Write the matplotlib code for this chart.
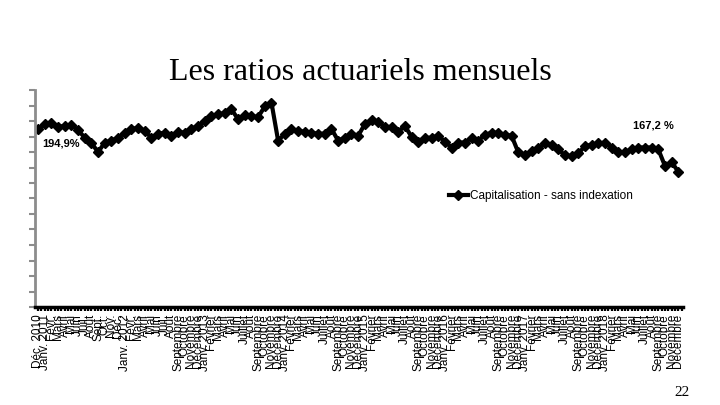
import numpy as np
import matplotlib
matplotlib.use("Agg")
from matplotlib import pyplot as plt
from matplotlib.ticker import MultipleLocator

# Ratio actuariel mensuel (%), Déc. 2010 -> Déc. 2018
ratios = [
    194.9, 198.0, 198.7, 196.2, 196.8, 197.4, 194.3, 189.2, 186.1, 179.8,
    186.1, 187.3, 189.2, 192.4, 194.9, 195.5, 193.6, 189.2, 191.8, 192.4,
    190.5, 193.0, 192.4, 194.9, 196.8, 199.9, 203.1, 204.4, 205.0, 207.5,
    201.2, 203.7, 203.1, 202.5, 209.4, 211.9, 187.3, 191.8, 194.9, 193.6,
    193.0, 192.4, 191.8, 191.8, 194.9, 187.3, 189.2, 191.8, 190.5, 198.0,
    200.6, 199.3, 196.2, 196.2, 193.0, 196.8, 189.9, 186.7, 189.2, 189.2,
    190.5, 186.7, 182.9, 186.1, 186.1, 189.2, 187.3, 191.1, 192.4, 192.4,
    191.1, 190.5, 179.8, 177.9, 180.4, 182.3, 185.5, 184.2, 181.7, 177.9,
    177.3, 179.2, 183.6, 184.8, 185.5, 186.1, 182.9, 179.8, 179.8, 181.7,
    182.9, 182.9, 182.9, 181.7, 171.0, 173.5, 167.2,
]

mois_courts = ["Févr.", "Mars", "Avril", "Mai", "Juin", "Juil.", "Août",
               "Sept.", "Oct.", "Nov.", "Déc."]
mois_longs = ["Février", "Mars", "Avril", "Mai", "Juin", "Juillet", "Août",
              "Septembre", "Octobre", "Novembre", "Décembre"]

labels = ["Déc. 2010"]
labels += ["Janv. 2011"] + mois_courts
labels += ["Janv. 2012"] + mois_courts[:7] + mois_longs[7:]
for year in range(2013, 2019):
    labels += [f"Janv. {year}"] + mois_longs

first_label = "194,9%"
last_label = "167,2 %"
series_name = "Capitalisation - sans indexation"

x = np.arange(len(ratios))

fig = plt.figure(figsize=(7.2, 4.05), dpi=100)
ax = fig.add_axes([35 / 720, 1 - 307 / 405, 648 / 720, 217 / 405])

ax.plot(x, ratios, color="black", lw=3, marker="D", ms=5.5,
        label=series_name, solid_joinstyle="miter")
ax.set_xlim(-0.45, len(ratios) - 0.3)
ax.set_ylim(80, 220)

ax.yaxis.set_major_locator(MultipleLocator(10))
ax.tick_params(axis="y", direction="out", length=4, width=1.5,
               color="#8c8c8c", labelleft=False)
ax.spines["left"].set_color("#8c8c8c")
ax.spines["left"].set_linewidth(2)
ax.spines["bottom"].set_color("black")
ax.spines["bottom"].set_linewidth(2.5)
ax.spines["right"].set_color("none")
ax.spines["top"].set_color("none")

ax.set_xticks(x)
ax.set_xticks(x + 0.5, minor=True)
ax.set_xticklabels(labels, rotation=90, fontsize=8.5,
                   family=["Liberation Sans", "DejaVu Sans"])
ax.tick_params(axis="x", which="both", direction="out", length=3, width=1.6,
               color="black", pad=2)

ax.annotate(first_label, (x[0], ratios[0]), textcoords="offset points",
            xytext=(3, -7), ha="left", va="top", fontsize=8,
            fontweight="bold", family="Liberation Sans")
ax.annotate(last_label, (x[-1], ratios[-1]), textcoords="offset points",
            xytext=(-3, 30), ha="right", va="bottom", fontsize=8,
            fontweight="bold", family="Liberation Sans")

leg = ax.legend(loc="center left", bbox_to_anchor=(443 / 720, 1 - 196 / 405),
                bbox_transform=fig.transFigure, frameon=False,
                handlelength=1.6, handletextpad=0.2, borderpad=0,
                prop={"family": "Liberation Sans", "size": 8.5})

fig.text(0.5, 1 - 73 / 405, "Les ratios actuariels mensuels", ha="center",
         va="center", fontsize=23, family="Liberation Serif")
fig.text(690 / 720, 1 - 392 / 405, "22", ha="right", va="center",
         fontsize=11, family="Liberation Serif")

fig.savefig("out.png", dpi=100)
